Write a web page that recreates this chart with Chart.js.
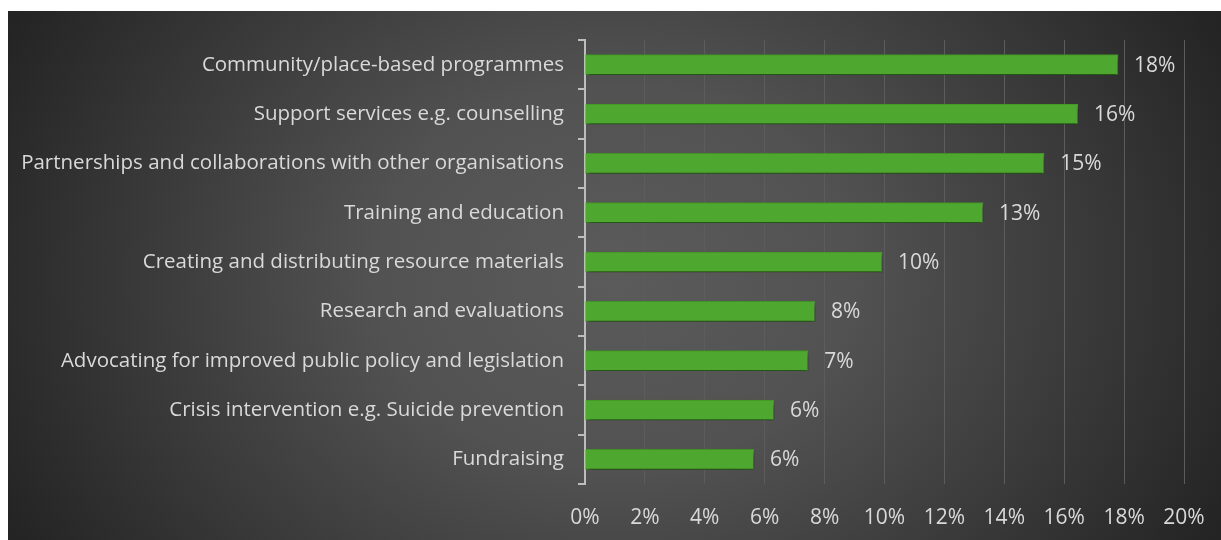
<!DOCTYPE html>
<html lang="en">
<head>
  <meta charset="UTF-8" />
  <title>Focus areas</title>
  <script src="https://cdn.jsdelivr.net/npm/chart.js"></script>
  <style>
    html, body { margin: 0; padding: 0; background: #ffffff; }
    .caixa { position: absolute; left: 8px; top: 11px; width: 1213px; height: 529px; }
  </style>
</head>
<body>
  <div class="caixa">
    <canvas id="grafico"></canvas>
  </div>

  <script>
    const categorias = [
      'Community/place-based programmes',
      'Support services e.g. counselling',
      'Partnerships and collaborations with other organisations',
      'Training and education',
      'Creating and distributing resource materials',
      'Research and evaluations',
      'Advocating for improved public policy and legislation',
      'Crisis intervention e.g. Suicide prevention',
      'Fundraising'
    ];
    const percentuais = [17.8, 16.46, 15.33, 13.29, 9.92, 7.68, 7.45, 6.31, 5.64];
    const ticksX = [0, 2, 4, 6, 8, 10, 12, 14, 16, 18, 20];

    const fonte = '"Open Sans", "DejaVu Sans", sans-serif';
    const corTexto = '#d9d9d9';

    // fundo escuro com brilho radial no centro
    const fundo = {
      id: 'fundo',
      beforeDraw(chart) {
        const { ctx, width, height } = chart;
        ctx.save();
        const cx = width * 0.5, cy = height * 0.5;
        ctx.translate(cx, cy);
        ctx.scale(1, 0.8);
        const g = ctx.createRadialGradient(0, 0, 0, 0, 0, 680);
        g.addColorStop(0, '#5b5b5b');
        g.addColorStop(0.35, '#525252');
        g.addColorStop(1, '#242424');
        ctx.fillStyle = g;
        ctx.fillRect(-cx, -cy / 0.8, width, height / 0.8);
        ctx.restore();
      }
    };

    // sombra nas barras
    const sombra = {
      id: 'sombra',
      beforeDatasetsDraw(chart) {
        const ctx = chart.ctx;
        ctx.save();
        ctx.shadowColor = 'rgba(0,0,0,0.55)';
        ctx.shadowBlur = 5;
        ctx.shadowOffsetX = 2;
        ctx.shadowOffsetY = 3;
      },
      afterDatasetsDraw(chart) {
        chart.ctx.restore();
      }
    };

    // rótulos de valor na ponta das barras
    const rotulos = {
      id: 'rotulos',
      afterDatasetsDraw(chart) {
        const ctx = chart.ctx;
        const meta = chart.getDatasetMeta(0);
        ctx.save();
        ctx.font = '21px ' + fonte;
        ctx.fillStyle = corTexto;
        ctx.textAlign = 'left';
        ctx.textBaseline = 'middle';
        meta.data.forEach((barra, i) => {
          ctx.fillText(Math.round(percentuais[i]) + '%', barra.x + 16, barra.y + 1);
        });
        ctx.restore();
      }
    };

    const ctx = document.getElementById('grafico').getContext('2d');
    new Chart(ctx, {
      type: 'bar',
      data: {
        labels: categorias,
        datasets: [{
          data: percentuais,
          backgroundColor: '#4ea72e',
          borderColor: '#459a28',
          borderWidth: 1,
          barThickness: 20
        }]
      },
      options: {
        indexAxis: 'y',
        responsive: true,
        maintainAspectRatio: false,
        animation: false,
        layout: { padding: { top: 29, right: 37, bottom: 0, left: 0 } },
        plugins: {
          legend: { display: false },
          tooltip: { enabled: false }
        },
        scales: {
          x: {
            min: 0,
            max: 20,
            afterBuildTicks(axis) { axis.ticks = ticksX.map(v => ({ value: v })); },
            afterFit(axis) {
              axis.height = 56;
              axis.paddingLeft = 0;
              axis.paddingRight = 0;
            },
            ticks: {
              color: corTexto,
              font: { family: fonte, size: 21 },
              padding: 21,
              callback: v => v + '%'
            },
            grid: { color: '#5c5c5c', lineWidth: 1, drawTicks: false },
            border: { display: false }
          },
          y: {
            afterFit(axis) { axis.width = 577; },
            ticks: {
              color: corTexto,
              font: { family: fonte, size: 20.5 },
              padding: 14
            },
            grid: {
              offset: true,
              drawOnChartArea: false,
              drawTicks: true,
              tickLength: 7,
              tickColor: '#bdbdbd',
              lineWidth: 2
            },
            border: { display: true, color: '#bdbdbd', width: 2 }
          }
        }
      },
      plugins: [fundo, sombra, rotulos]
    });
  </script>
</body>
</html>
